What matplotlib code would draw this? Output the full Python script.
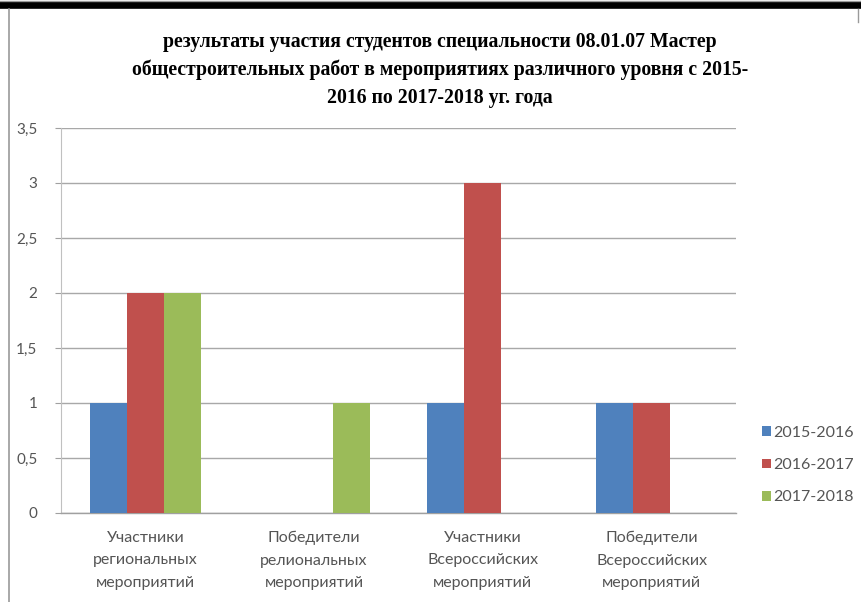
import matplotlib
matplotlib.use("Agg")
import matplotlib.pyplot as plt
import numpy as np
from matplotlib.patches import Patch
from matplotlib.lines import Line2D

categories = ["Участники\nрегиональных\nмероприятий",
              "Победители\nрелиональных\nмероприятий",
              "Участники\nВсероссийских\nмероприятий",
              "Победители\nВсероссийских\nмероприятий"]
series_names = ["2015-2016", "2016-2017", "2017-2018"]
v2015 = [1, 0, 1, 1]
v2016 = [2, 0, 3, 1]
v2017 = [2, 1, 0, 0]
yticks = [0, 0.5, 1, 1.5, 2, 2.5, 3, 3.5]
ytick_labels = ["0", "0,5", "1", "1,5", "2", "2,5", "3", "3,5"]
title = ("результаты участия студентов специальности 08.01.07 Мастер\n"
         "общестроительных работ в мероприятиях различного уровня с 2015-\n"
         "2016 по 2017-2018 уг. года")

colors = ["#4F81BD", "#C0504D", "#9BBB59"]
W, H = 862, 602
fig = plt.figure(figsize=(W / 100, H / 100), dpi=100)

# page borders
fig.add_artist(Line2D([0, 1], [1 - 5 / H, 1 - 5 / H], color="black", lw=5.5, transform=fig.transFigure))
fig.add_artist(Line2D([0, 1], [1 - 0.8 / H, 1 - 0.8 / H], color="#999999", lw=1, transform=fig.transFigure))
fig.add_artist(Line2D([9 / W, 9 / W], [0, 1 - 9 / H], color="#9a9a9a", lw=1.2, transform=fig.transFigure))
fig.add_artist(Line2D([858 / W, 858 / W], [1 - 22 / H, 1 - 9 / H], color="#9a9a9a", lw=1.0, transform=fig.transFigure))

left, right = 61, 736
top, bottom = 128, 513
ax = fig.add_axes([left / W, 1 - bottom / H, (right - left) / W, (bottom - top) / H])

x = np.arange(len(categories))
bw = 0.22
for i, (vals, c) in enumerate(zip([v2015, v2016, v2017], colors)):
    ax.bar(x + (i - 1) * bw, vals, width=bw, color=c, label=series_names[i], zorder=3)

ax.set_xlim(-0.5, len(categories) - 0.5)
ax.set_ylim(0, 3.5)
ax.set_yticks(yticks)
ax.set_yticklabels(ytick_labels, fontsize=11, color="#555555", family="Lato")
ax.set_xticks(x)
ax.set_xticklabels(categories, fontsize=11.5, color="#555555", family="Lato", linespacing=1.75)
ax.tick_params(axis="x", length=0, pad=13)
ax.tick_params(axis="y", length=4, color="#a0a0a0", pad=13)
ax.grid(axis="y", color="#a8a8a8", lw=1.0, zorder=0)
for s in ["top", "right"]:
    ax.spines[s].set_visible(False)
ax.spines["left"].set_color("#c0c0c0")
ax.spines["bottom"].set_color("#a0a0a0")
ax.spines["bottom"].set_linewidth(1.0)

fig.text(440 / W, 1 - 32 / H, title, ha="center", va="top", family="Liberation Serif",
         weight="bold", fontsize=14.2, linespacing=1.5)

handles = [Patch(facecolor=c, edgecolor="none") for c in colors]
fig.legend(handles, series_names, loc="center left", bbox_to_anchor=(762 / W, 1 - 465 / H),
           frameon=False, prop={"family": "Lato", "size": 11.5}, handlelength=0.55, handleheight=0.55,
           handletextpad=0.15, labelspacing=1.15, labelcolor="#555555", borderpad=0, borderaxespad=0)

fig.savefig("out.png", dpi=100)
